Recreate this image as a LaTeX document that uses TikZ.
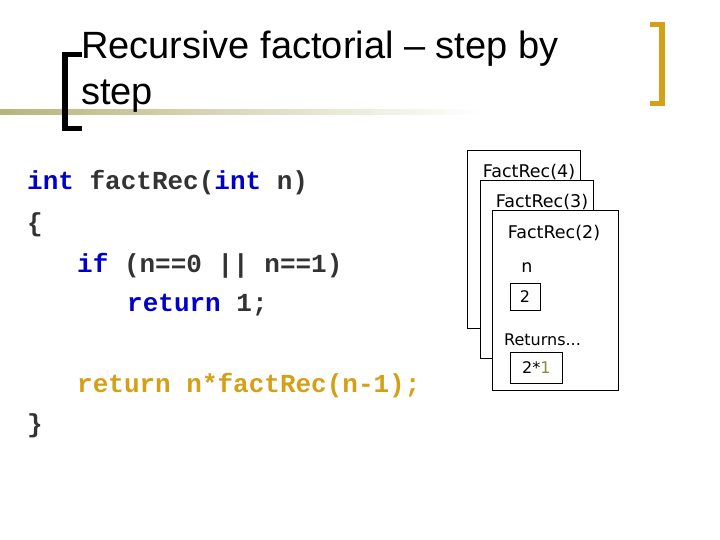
\documentclass[tikz,border=0pt]{standalone}
\usepackage{fontspec}
\setmainfont{Liberation Sans}
\setmonofont{Liberation Mono}
\newfontfamily\boxfont{DejaVu Sans}
\definecolor{kwblue}{HTML}{0000CC}
\definecolor{codegray}{HTML}{333333}
\definecolor{gold}{HTML}{D4A017}
\definecolor{olive}{HTML}{8A8A3A}
\definecolor{olivel}{HTML}{B5B57A}
\begin{document}
\begin{tikzpicture}[x=1pt,y=-1pt,
  code/.style={anchor=base west,inner sep=0,text=codegray,font=\ttfamily\bfseries\fontsize{26}{26}\selectfont},
  frame/.style={draw=black,line width=0.8pt,fill=white},
  lbl/.style={inner sep=0,font=\boxfont\fontsize{17.5}{17.5}\selectfont},
  valbox/.style={draw=black,line width=0.8pt,inner sep=0,font=\boxfont\fontsize{16}{16}\selectfont}]
\useasboundingbox (0,0) rectangle (720,540);
\fill[white] (0,0) rectangle (720,540);
% title line
\shade[left color=olivel,right color=white] (0,110) rectangle (480,115);
% brackets
\fill[black] (62,52) rectangle (68,131);
\fill[black] (62,52) rectangle (82,57);
\fill[black] (62,126) rectangle (82,131);
\fill[gold] (659,22) rectangle (665,106);
\fill[gold] (650,22) rectangle (665,27);
\fill[gold] (650,101) rectangle (665,106);
\node[anchor=base west,inner sep=0,font=\fontsize{38}{38}\selectfont] (t1) at (81,59) {Recursive factorial -- step by};
\node[anchor=base west,inner sep=0,font=\fontsize{38}{38}\selectfont] (t2) at (81,105) {step};
% code
\node[code] (c1) at (27,190) {\textcolor{kwblue}{int} factRec(\textcolor{kwblue}{int} n)};
\node[code] (c2) at (27,231) {\{};
\node[code] (c3) at (77,272) {\textcolor{kwblue}{if} (n==0 || n==1)};
\node[code] (c4) at (127,311) {\textcolor{kwblue}{return} 1;};
\node[code,text=gold] (c5) at (77,392) {return n*factRec(n-1);};
\node[code] (c6) at (27,432) {\}};
% frames
\draw[frame] (467,150) rectangle (580,328);
\node[lbl] (f4) at (529,172) {FactRec(4)};
\draw[frame] (480,180) rectangle (593,358);
\node[lbl] (f3) at (542,202) {FactRec(3)};
\draw[frame] (492,210) rectangle (618,390);
\node[lbl] (f2) at (554,233) {FactRec(2)};
\node[lbl] (n) at (527,268) {n};
\node[valbox,minimum width=30,minimum height=27] (v) at (525,297) {2};
\node[lbl,anchor=west,font=\boxfont\fontsize{16}{16}\selectfont] (r) at (504,340) {Returns...};
\node[valbox,minimum width=52,minimum height=31,anchor=west] (rv) at (510,368) {2*\textcolor{olive}{1}};
\end{tikzpicture}
\end{document}
